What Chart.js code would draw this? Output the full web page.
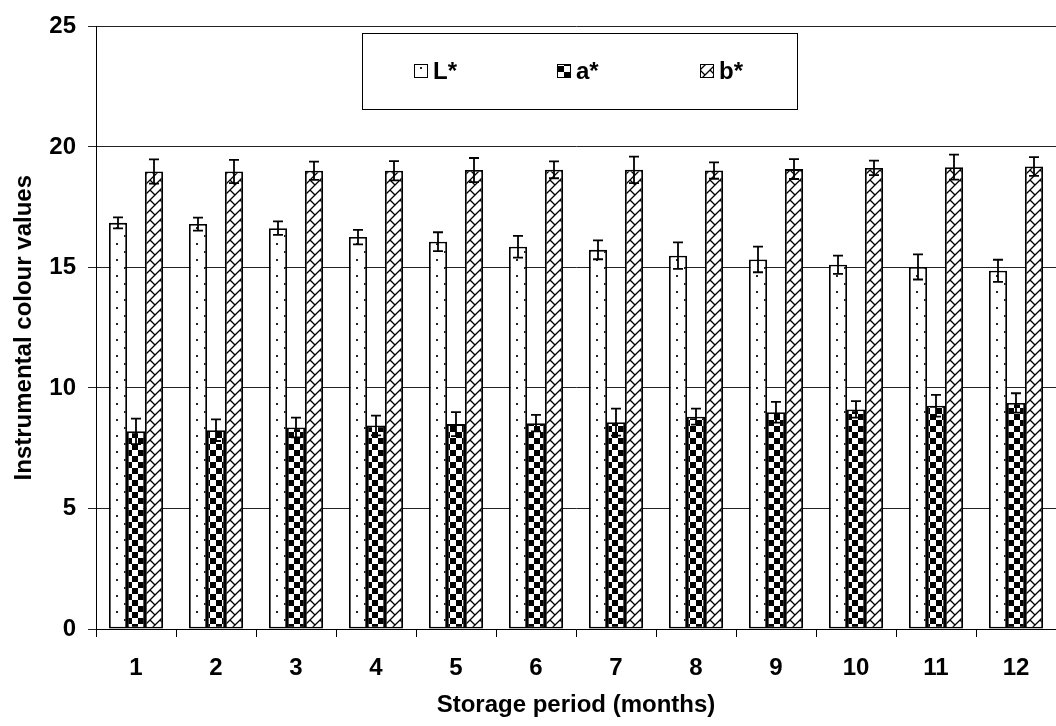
<!DOCTYPE html>
<html>
<head>
<meta charset="utf-8">
<script src="https://cdn.jsdelivr.net/npm/chart.js@4.4.0/dist/chart.umd.min.js"></script>
<style>
    html, body { margin: 0; padding: 0; background: #fff; }
    #wrap { width: 1056px; height: 726px; position: relative; }
</style>
</head>
<body>
<div id="wrap"><canvas id="colourChart"></canvas></div>
<script>
// storage months
const months = ['1', '2', '3', '4', '5', '6', '7', '8', '9', '10', '11', '12'];

// L* (lightness)
const lValues = [16.85, 16.8, 16.63, 16.26, 16.07, 15.86, 15.73, 15.49, 15.33, 15.11, 15.02, 14.86];
const lErrors = [0.23, 0.27, 0.28, 0.3, 0.39, 0.45, 0.39, 0.55, 0.53, 0.38, 0.52, 0.46];

// a* (redness)
const aValues = [8.2, 8.25, 8.36, 8.44, 8.5, 8.54, 8.58, 8.81, 8.99, 9.11, 9.26, 9.38];
const aErrors = [0.53, 0.45, 0.41, 0.41, 0.5, 0.34, 0.56, 0.33, 0.43, 0.34, 0.45, 0.4];

// b* (yellowness)
const bValues = [18.98, 18.98, 19.01, 19.01, 19.04, 19.05, 19.05, 19.02, 19.08, 19.13, 19.16, 19.19];
const bErrors = [0.5, 0.48, 0.38, 0.4, 0.5, 0.35, 0.55, 0.34, 0.41, 0.3, 0.52, 0.39];

const yTicks = [0, 5, 10, 15, 20, 25];
const seriesErrors = [lErrors, aErrors, bErrors];

const fontFamily = 'Arial, "Liberation Sans", Helvetica, sans-serif';
const boldFont = { family: fontFamily, size: 24, weight: 'bold' };

function makePattern(w, h, draw) {
    const c = document.createElement('canvas');
    c.width = w;
    c.height = h;
    const g = c.getContext('2d');
    g.fillStyle = '#fff';
    g.fillRect(0, 0, w, h);
    draw(g);
    return g.createPattern(c, 'repeat');
}

// sparse dots
const dotPattern = makePattern(16, 16, g => {
    g.fillStyle = '#222';
    g.fillRect(4, 3, 2, 2);
    g.fillRect(12, 11, 2, 2);
});

// big checkerboard
const checkPattern = makePattern(12, 12, g => {
    g.fillStyle = '#000';
    g.fillRect(0, 0, 6, 6);
    g.fillRect(6, 6, 6, 6);
});

// diagonal trellis
const weavePattern = makePattern(10, 10, g => {
    g.strokeStyle = '#000';
    g.lineWidth = 1.3;
    g.beginPath();
    g.moveTo(0, 10); g.lineTo(10, 0);
    g.moveTo(-5, 5); g.lineTo(5, -5);
    g.moveTo(5, 15); g.lineTo(15, 5);
    g.moveTo(0, 0); g.lineTo(5, 5);
    g.stroke();
});

// error bars plugin
const errorBars = {
    id: 'errorBars',
    afterDatasetsDraw(chart) {
        const ctx = chart.ctx;
        const yScale = chart.scales.y;
        ctx.save();
        ctx.strokeStyle = '#000';
        ctx.lineWidth = 1.8;
        chart.data.datasets.forEach((ds, i) => {
            const meta = chart.getDatasetMeta(i);
            meta.data.forEach((bar, j) => {
                const v = ds.data[j];
                const e = seriesErrors[i][j];
                const yt = yScale.getPixelForValue(v + e);
                const yb = yScale.getPixelForValue(v - e);
                const x = Math.round(bar.x);
                ctx.beginPath();
                ctx.moveTo(x, yt); ctx.lineTo(x, yb);
                ctx.moveTo(x - 5, yt); ctx.lineTo(x + 5, yt);
                ctx.moveTo(x - 5, yb); ctx.lineTo(x + 5, yb);
                ctx.stroke();
            });
        });
        ctx.restore();
    }
};

// legend box inside the plot
const boxLegend = {
    id: 'boxLegend',
    afterDraw(chart) {
        const ctx = chart.ctx;
        ctx.save();
        ctx.fillStyle = '#fff';
        ctx.fillRect(362.5, 33.5, 435, 76);
        ctx.strokeStyle = '#000';
        ctx.lineWidth = 1;
        ctx.strokeRect(362.5, 33.5, 435, 76);
        const xs = [414, 557, 700];
        chart.data.datasets.forEach((ds, i) => {
            ctx.fillStyle = ds.backgroundColor;
            ctx.fillRect(xs[i], 64, 14, 14);
            ctx.strokeRect(xs[i] + 0.5, 64.5, 13, 13);
            ctx.fillStyle = '#000';
            ctx.font = 'bold 24px ' + fontFamily;
            ctx.textBaseline = 'middle';
            ctx.textAlign = 'left';
            ctx.fillText(ds.label, xs[i] + 19, 72);
        });
        ctx.restore();
    }
};

const barStyle = {
    borderColor: '#000',
    borderWidth: 1.8,
    borderSkipped: false,
    categoryPercentage: 0.675,
    barPercentage: 1
};

const colourChart = new Chart(document.getElementById('colourChart'), {
    type: 'bar',
    data: {
        labels: months,
        datasets: [
            Object.assign({ label: 'L*', data: lValues, backgroundColor: dotPattern }, barStyle),
            Object.assign({ label: 'a*', data: aValues, backgroundColor: checkPattern }, barStyle),
            Object.assign({ label: 'b*', data: bValues, backgroundColor: weavePattern }, barStyle)
        ]
    },
    options: {
        responsive: true,
        maintainAspectRatio: false,
        animation: false,
        layout: { padding: { top: 17, right: 0, left: 0, bottom: 0 } },
        plugins: {
            legend: { display: false },
            tooltip: { enabled: false }
        },
        scales: {
            x: {
                offset: true,
                grid: {
                    display: true,
                    offset: true,
                    drawOnChartArea: false,
                    drawTicks: true,
                    tickLength: 8,
                    color: '#000'
                },
                border: { display: true, color: '#000', width: 1 },
                ticks: {
                    color: '#000',
                    padding: 17,
                    font: boldFont
                },
                title: {
                    display: true,
                    text: 'Storage period (months)',
                    color: '#000',
                    font: boldFont,
                    padding: { top: 0, bottom: 6 }
                },
                afterFit(scale) { scale.height = 97; }
            },
            y: {
                min: 0,
                max: 25,
                afterBuildTicks(scale) {
                    scale.ticks = yTicks.map(v => ({ value: v }));
                },
                grid: {
                    color: '#222',
                    drawTicks: true,
                    tickLength: 8
                },
                border: { display: true, color: '#000', width: 1 },
                ticks: {
                    color: '#000',
                    padding: 12,
                    font: boldFont
                },
                title: {
                    display: true,
                    text: 'Instrumental colour values',
                    color: '#000',
                    font: boldFont,
                    padding: { top: 10, bottom: 0 }
                },
                afterFit(scale) { scale.width = 96; }
            }
        }
    },
    plugins: [errorBars, boxLegend]
});
</script>
</body>
</html>
